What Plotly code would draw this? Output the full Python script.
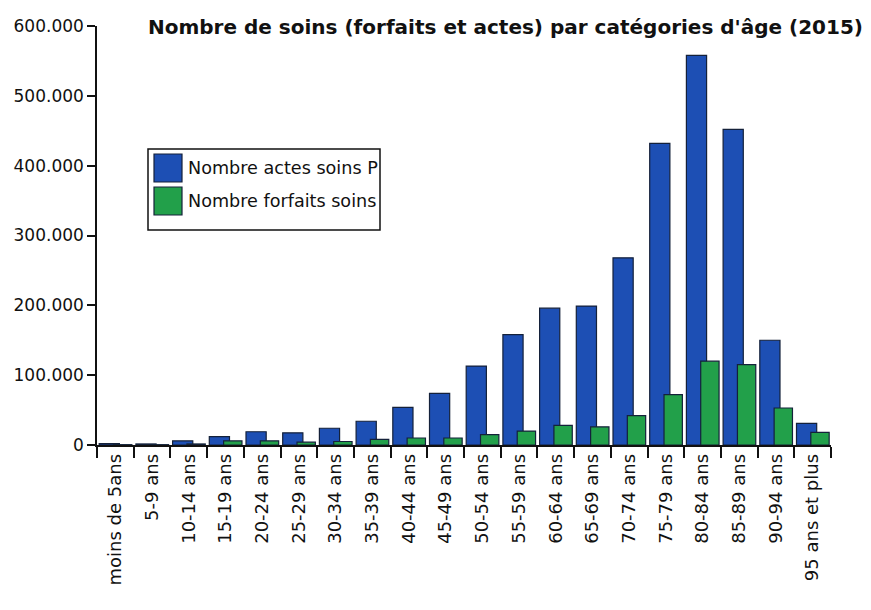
import plotly.graph_objects as go

# Age groups and counts of care (2015)
age_groups = [
    "moins de 5ans", "5-9 ans", "10-14 ans", "15-19 ans", "20-24 ans",
    "25-29 ans", "30-34 ans", "35-39 ans", "40-44 ans", "45-49 ans",
    "50-54 ans", "55-59 ans", "60-64 ans", "65-69 ans", "70-74 ans",
    "75-79 ans", "80-84 ans", "85-89 ans", "90-94 ans", "95 ans et plus",
]
actes = [
    2000, 1500, 6000, 12000, 19000,
    17500, 24000, 34000, 54000, 74000,
    113000, 158000, 196000, 199000, 268000,
    432000, 558000, 452000, 150000, 31000,
]
forfaits = [
    500, 500, 1500, 6000, 6000,
    4000, 5000, 8000, 10000, 10000,
    15000, 20000, 28000, 26000, 42000,
    72000, 120000, 115000, 53000, 18000,
]
series_names = ["Nombre actes soins P", "Nombre forfaits soins"]
y_ticks = [0, 100000, 200000, 300000, 400000, 500000, 600000]

BLUE = "#1d4fb4"
GREEN = "#22a04a"
EDGE = "#14213a"
FONT = "DejaVu Sans"

fig = go.Figure()
fig.add_trace(go.Bar(
    x=age_groups, y=actes, name=series_names[0],
    marker=dict(color=BLUE, line=dict(color=EDGE, width=1.2)),
    offset=-0.44, width=0.55, showlegend=False,
))
fig.add_trace(go.Bar(
    x=age_groups, y=forfaits, name=series_names[1],
    marker=dict(color=GREEN, line=dict(color=EDGE, width=1.2)),
    offset=-0.05, width=0.50, showlegend=False,
))

# Boxed legend with large colour swatches
lx0, lx1, ly0, ly1 = 148, 380, 149, 230
W, H = 871, 610
L, R, T, B = 97, 40, 26, 165
pw, ph = W - L - R, H - T - B


def px(x):
    return (x - L) / pw


def py(y):
    return 1 - (y - T) / ph


fig.add_shape(type="rect", xref="paper", yref="paper",
              x0=px(lx0), x1=px(lx1), y0=py(ly1), y1=py(ly0),
              line=dict(color="#111", width=1.5), fillcolor="white")
for i, (name, col) in enumerate(zip(series_names, [BLUE, GREEN])):
    top = 154 + i * 33
    fig.add_shape(type="rect", xref="paper", yref="paper",
                  x0=px(154), x1=px(182), y0=py(top + 28), y1=py(top),
                  line=dict(color=EDGE, width=1.2), fillcolor=col)
    fig.add_annotation(xref="paper", yref="paper", x=px(186), y=py(top + 14),
                       text=name, showarrow=False, xanchor="left",
                       yanchor="middle",
                       font=dict(family=FONT, size=17.6, color="#111"))

fig.update_layout(
    width=W, height=H,
    margin=dict(l=L, r=R, t=T, b=B),
    paper_bgcolor="white", plot_bgcolor="white",
    barmode="overlay",
    separators=",.",
    font=dict(family=FONT, size=16, color="#111"),
    title=dict(
        text="<b>Nombre de soins (forfaits et actes) par catégories d'âge (2015)</b>",
        x=505.5 / W, xanchor="center", xref="container",
        y=1 - 27 / H, yanchor="middle", yref="container",
        font=dict(family=FONT, size=20, color="#111"),
    ),
    xaxis=dict(
        range=[-0.5, 19.5], tickangle=-90, tickson="boundaries",
        ticks="outside", ticklen=11, tickwidth=1.5, tickcolor="#111",
        showline=True, linecolor="#111", linewidth=1.5,
        showgrid=False, zeroline=False,
        tickfont=dict(family=FONT, size=18, color="#111"),
    ),
    yaxis=dict(
        range=[0, 600000], tickvals=y_ticks, tickformat=",d",
        ticks="outside", ticklen=8, tickwidth=1.5, tickcolor="#111",
        showline=True, linecolor="#111", linewidth=1.5,
        showgrid=False, zeroline=False,
        tickfont=dict(family=FONT, size=17, color="#111"),
    ),
)

fig.write_html("out.html")
